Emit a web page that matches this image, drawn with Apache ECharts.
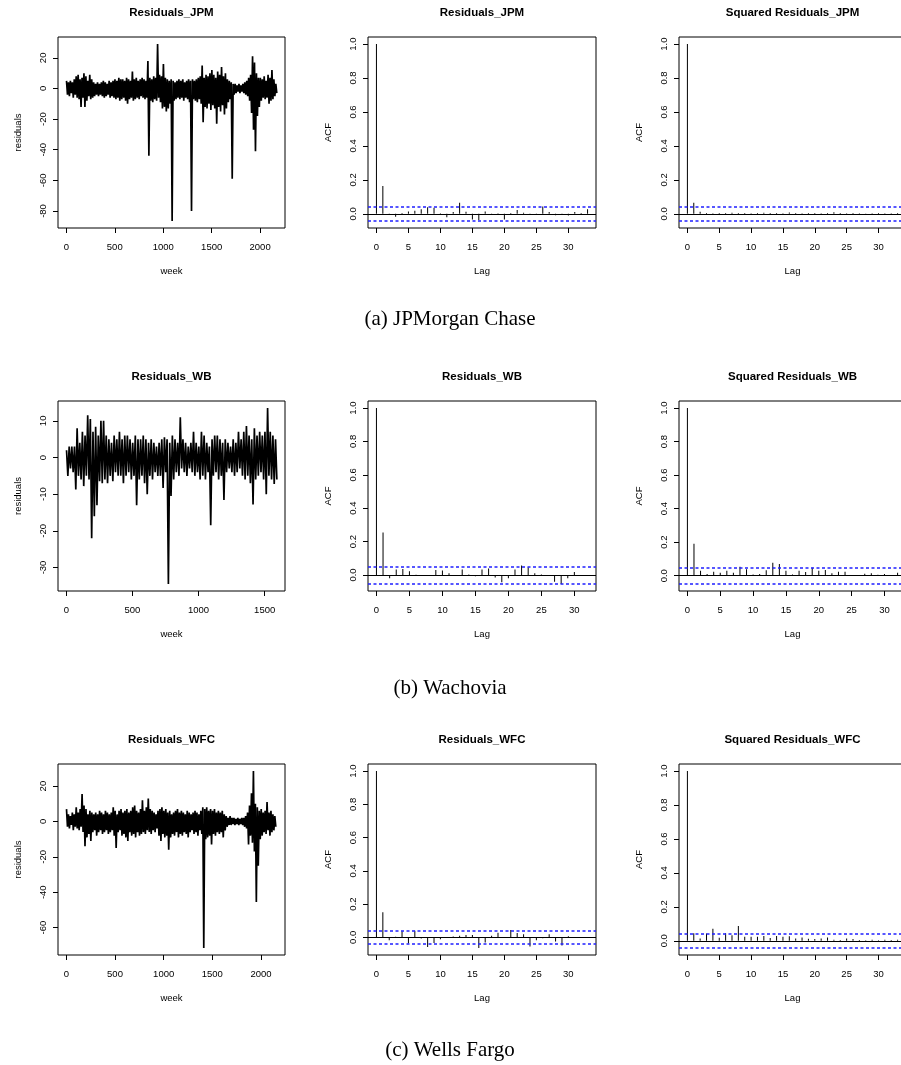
<!DOCTYPE html>
<html>
<head>
<meta charset="utf-8">
<script src="https://cdn.jsdelivr.net/npm/echarts@6/dist/echarts.min.js"></script>
<style>
html, body { margin: 0; padding: 0; background: #fff; overflow: hidden; }
#main { width: 930px; height: 1065px; }
</style>
</head>
<body>
<div id="main"></div>
<script>
var binWeeks = 20;
var nJPM = 2170, nWB = 1590, nWFC = 2160;

var jpmHigh = [5,4,5,4,6,8,9,6,7,10, 8,5,9,6,4,3,4,3,4,5, 4,3,5,4,5,6,5,7,6,6, 5,7,6,5,11,6,7,5,6,7,
    6,5,18,7,6,8,7,29,9,8, 16,7,6,5,6,5,4,5,6,5, 6,4,5,6,5,6,5,6,7,8, 15,7,9,8,10,12,9,7,11,9,
    14,8,10,6,5,4,3,3,2,3, 2,3,4,5,7,9,21,17,10,7, 7,6,8,5,9,7,12,6,3];
var jpmLow = [-4,-5,-3,-6,-4,-6,-7,-12,-6,-12, -8,-5,-7,-6,-5,-4,-5,-4,-5,-6, -5,-4,-6,-5,-6,-7,-6,-8,-7,-6,
    -8,-10,-7,-6,-8,-7,-6,-7,-5,-6, -7,-6,-44,-8,-9,-7,-8,-6,-9,-13, -12,-15,-13,-10,-86.5,-8,-7,-6,-7,-6,
    -8,-6,-7,-9,-80,-7,-8,-9,-7,-10, -22,-12,-13,-10,-14,-11,-13,-23,-12,-15, -11,-17,-13,-9,-7,-59,-4,-3,-2,-3,
    -2,-3,-4,-5,-8,-16,-27,-41,-18,-12, -8,-6,-7,-6,-10,-8,-7,-5,-3];

var wbHigh = [2,3,3,3,8,4,7,6,11.5,10.5, 7,8.4,6,10,10,6,5,4,6,5, 7,5,6,6,5,4,6,5,5,6, 5,4,5,4,3,4,5,5.5,5,4,
    6,5,4,11,5,4,3,4,7,4, 3,7,6,4,3,5,6,6,5,4, 5,4,3,5,4,7,5,7,8.6,6, 5,8,6,7,6,7,13.5,7,6,5];
var wbLow = [-5,-3,-4,-8.7,-5,-6,-7.8,-5,-6,-22, -16,-13,-6.5,-7,-6,-7,-5,-6.5,-4,-5, -5,-7,-5,-4,-6,-5,-13,-6,-5,-7,
    -10,-5,-6,-4,-5,-5,-8.3,-4,-34.5,-10.5, -6,-4,-5,-3,-4,-5,-3,-4,-5,-4, -6,-5,-6,-4,-18.5,-5,-4,-6,-5,-11.6,
    -4,-3,-4,-5,-4,-3,-5,-6,-5,-7, -12.8,-6,-5,-4,-6,-10,-5,-6,-7.2,-6];

var wfcHigh = [7,4,3,5,4,8,5,7,15.5,9, 7,4,6,5,4,5,4,6,5,4, 6,5,4,5,8,6,4,6,7,5, 6,7,5,6,8,9,6,5,7,12,
    6,8,13,7,6,5,4,6,7,8, 6,7,5,6,4,5,6,7,5,6, 5,4,6,5,4,5,6,5,4,6, 8,7,8,6,7,6,7,5,6,5,
    6,4,3,2,3,2,2,1.5,2,1.5, 2,2,3,5,9,16,28.5,10,8,6, 7,5,6,11,5,6,4,3];
var wfcLow = [-3,-4,-2,-5,-3,-4,-5,-3,-6,-14, -9,-7,-11,-6,-5,-8,-6,-5,-7,-6, -5,-7,-6,-5,-8,-15,-6,-5,-8,-7,
    -9,-11,-6,-8,-7,-9,-6,-8,-7,-6, -7,-5,-6,-7,-5,-6,-4,-8,-11,-7, -9,-8,-16,-9,-7,-8,-6,-9,-7,-8,
    -6,-7,-9,-6,-5,-7,-6,-8,-5,-7, -71.5,-10,-9,-8,-13,-7,-8,-6,-7,-6, -9,-5,-3,-2,-2,-1.5,-2,-1.5,-2,-1.5,
    -2,-3,-4,-13,-8,-12,-17,-45.5,-25,-10, -8,-6,-7,-5,-8,-6,-5,-3];

// sample autocorrelations, lag 0 .. lag.max
var acfJPM = [1,0.163,-0.005,-0.018,0.005,0.014,0.018,0.026,0.039,0.035, 0.003,-0.02,0.01,0.065,0.012,-0.033,-0.037,0.014,-0.004,0.003,
    -0.033,0.005,0.022,0.006,-0.006,-0.005,0.043,0.01,-0.008,-0.006, -0.01,0.01,0.004,0.026];
var acfSqJPM = [1,0.065,0.012,0.004,0.003,0.005,0.004,0.006,0.005,0.004, 0.003,0.005,0.006,0.004,0.005,0.003,0.007,0.004,0.003,0.005,
    0.004,0.003,0.004,0.009,0.004,0.003,0.004,0.003,0.002,0.003, 0.004,0.003,0.003,0.004];
var acfWB = [1,0.254,-0.02,0.032,0.036,0.022,0.001,-0.004,-0.003,0.03, 0.026,0.01,-0.005,0.032,0.003,-0.008,0.032,0.038,-0.016,-0.044,
    -0.02,0.032,0.056,0.046,0.01,0.003,-0.002,-0.04,-0.054,-0.02, 0.018,-0.006,-0.004];
var acfSqWB = [1,0.19,0.03,0.01,0.024,0.018,0.03,0.018,0.053,0.038, 0.008,0.01,0.032,0.077,0.07,0.03,0.008,0.03,0.022,0.048,
    0.03,0.034,0.014,0.024,0.024,0.003,0.004,0.012,0.014,0.006, 0.01,0.004,0.018];
var acfWFC = [1,0.15,-0.018,0.003,0.036,-0.038,0.04,-0.008,-0.058,-0.034, -0.012,-0.004,0.004,0.01,0.014,0.014,-0.064,-0.032,0.01,0.028,
    -0.004,0.044,0.026,0.018,-0.056,-0.018,-0.006,0.018,-0.026,-0.05, 0.006,-0.004,-0.004,-0.004];
var acfSqWFC = [1,0.045,0.014,0.043,0.071,0.018,0.045,0.033,0.087,0.024, 0.024,0.024,0.028,0.016,0.028,0.024,0.026,0.014,0.02,0.012,
    0.01,0.014,0.02,0.006,0.004,0.014,0.01,0.004,0.003,0.006, 0.003,0.006,0.004,0.006];

// tick positions
var weekTicksLong = [0, 500, 1000, 1500, 2000];
var weekTicksWB = [0, 500, 1000, 1500];
var resTicksJPM = [-80, -60, -40, -20, 0, 20];
var resTicksWB = [-30, -20, -10, 0, 10];
var resTicksWFC = [-60, -40, -20, 0, 20];
var lagTicks = [0, 5, 10, 15, 20, 25, 30];
var acfTicks = [0, 0.2, 0.4, 0.6, 0.8, 1.0];

var captions = ['(a) JPMorgan Chase', '(b) Wachovia', '(c) Wells Fargo'];

// layout of the 3x3 panels (right column runs off the page like the original)
var rowTop = [37, 401, 764];
var rowH = [191, 190, 191];
var colLeft = [58, 368, 679];
var colW = [227, 228, 227];
var captionY = [319, 688, 1050];
var FONT = 'Liberation Sans';

// R pads every axis by 4% of the data range
function rRange(lo, hi) {
    var d = (hi - lo) * 0.04;
    return [lo - d, hi + d];
}
function zigzag(hi, lo) {
    var pts = [];
    for (var i = 0; i < hi.length; i++) {
        pts.push([i * binWeeks + 2, hi[i]]);
        pts.push([i * binWeeks + 12, lo[i]]);
    }
    return pts;
}
function minOf(a) { return Math.min.apply(null, a); }
function maxOf(a) { return Math.max.apply(null, a); }

var panels = [
    {row: 0, col: 0, kind: 'res', title: 'Residuals_JPM', hi: jpmHigh, lo: jpmLow, n: nJPM, xt: weekTicksLong, yt: resTicksJPM},
    {row: 0, col: 1, kind: 'acf', title: 'Residuals_JPM', acf: acfJPM, n: nJPM},
    {row: 0, col: 2, kind: 'acf', title: 'Squared Residuals_JPM', acf: acfSqJPM, n: nJPM},
    {row: 1, col: 0, kind: 'res', title: 'Residuals_WB', hi: wbHigh, lo: wbLow, n: nWB, xt: weekTicksWB, yt: resTicksWB},
    {row: 1, col: 1, kind: 'acf', title: 'Residuals_WB', acf: acfWB, n: nWB},
    {row: 1, col: 2, kind: 'acf', title: 'Squared Residuals_WB', acf: acfSqWB, n: nWB},
    {row: 2, col: 0, kind: 'res', title: 'Residuals_WFC', hi: wfcHigh, lo: wfcLow, n: nWFC, xt: weekTicksLong, yt: resTicksWFC},
    {row: 2, col: 1, kind: 'acf', title: 'Residuals_WFC', acf: acfWFC, n: nWFC},
    {row: 2, col: 2, kind: 'acf', title: 'Squared Residuals_WFC', acf: acfSqWFC, n: nWFC}
];

var grids = [], xAxes = [], yAxes = [], series = [], graphics = [];

function tickStyle(ticks) {
    return {show: true, inside: false, length: 5, customValues: ticks, lineStyle: {color: '#000', width: 1}};
}

panels.forEach(function (p, i) {
    var left = colLeft[p.col], top = rowTop[p.row], w = colW[p.col], h = rowH[p.row];
    grids.push({left: left, top: top, width: w, height: h, show: true,
        borderColor: '#000', borderWidth: 1, backgroundColor: 'transparent'});

    var xr, yr, xt, yt, xName, yName, fmt;
    if (p.kind === 'res') {
        xr = rRange(1, p.n);
        yr = rRange(minOf(p.lo), maxOf(p.hi));
        xt = p.xt; yt = p.yt; xName = 'week'; yName = 'residuals';
        fmt = function (v) { return String(v); };
    } else {
        var ci = 1.96 / Math.sqrt(p.n);
        xr = rRange(0, p.acf.length - 1);
        yr = rRange(Math.min(-ci, minOf(p.acf)), Math.max(ci, maxOf(p.acf)));
        xt = lagTicks; yt = acfTicks; xName = 'Lag'; yName = 'ACF';
        fmt = function (v) { return v.toFixed(1); };
    }

    xAxes.push({
        gridIndex: i, type: 'value', min: xr[0], max: xr[1],
        axisLine: {show: false, onZero: false}, splitLine: {show: false},
        axisTick: tickStyle(xt),
        axisLabel: {customValues: xt, fontSize: 9.5, fontFamily: FONT, color: '#000', margin: 14,
            formatter: function (v) { return String(v); }},
        name: xName, nameLocation: 'middle', nameGap: 38,
        nameTextStyle: {fontSize: 9.5, fontFamily: FONT, color: '#000'}
    });
    yAxes.push({
        gridIndex: i, type: 'value', min: yr[0], max: yr[1],
        axisLine: {show: false, onZero: false}, splitLine: {show: false},
        axisTick: tickStyle(yt),
        axisLabel: {customValues: yt, rotate: 90, fontSize: 9.5, fontFamily: FONT, color: '#000', margin: 10, formatter: fmt},
        name: yName, nameLocation: 'middle', nameRotate: 90, nameGap: 35,
        nameTextStyle: {fontSize: 9.5, fontFamily: FONT, color: '#000'}
    });

    if (p.kind === 'res') {
        series.push({
            type: 'line', xAxisIndex: i, yAxisIndex: i, data: zigzag(p.hi, p.lo),
            showSymbol: false, symbol: 'none', lineStyle: {color: '#000', width: 1.7}, silent: true
        });
    } else {
        var ci2 = 1.96 / Math.sqrt(p.n);
        series.push({
            type: 'bar', xAxisIndex: i, yAxisIndex: i, barWidth: 1,
            data: p.acf.map(function (v, k) { return [k, v]; }),
            itemStyle: {color: '#000'}, silent: true,
            markLine: {
                symbol: ['none', 'none'], silent: true, label: {show: false},
                lineStyle: {color: '#1f1fff', type: [3, 2.5], width: 1.5, opacity: 1},
                data: [
                    {yAxis: ci2},
                    {yAxis: -ci2},
                    {yAxis: 0, lineStyle: {color: '#000', type: 'solid', width: 1}}
                ]
            }
        });
    }

    graphics.push({
        type: 'text', x: left + w / 2, y: top - 24,
        style: {text: p.title, font: 'bold 11.5px "' + FONT + '"', fill: '#000',
            align: 'center', verticalAlign: 'middle', textAlign: 'center', textVerticalAlign: 'middle'}
    });
});

captions.forEach(function (c, r) {
    graphics.push({
        type: 'text', x: 450, y: captionY[r],
        style: {text: c, font: '21px "Liberation Serif"', fill: '#000',
            align: 'center', verticalAlign: 'middle', textAlign: 'center', textVerticalAlign: 'middle'}
    });
});

var chart = echarts.init(document.getElementById('main'));
chart.setOption({
    animation: false,
    backgroundColor: '#fff',
    grid: grids,
    xAxis: xAxes,
    yAxis: yAxes,
    series: series,
    graphic: graphics
});
</script>
</body>
</html>
